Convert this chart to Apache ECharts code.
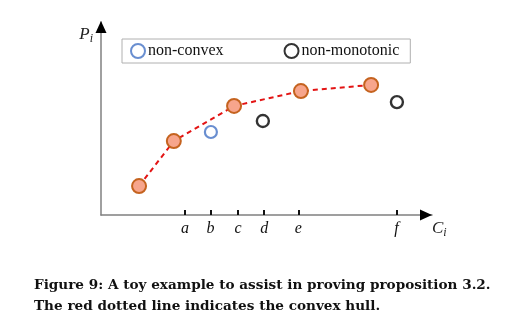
<!DOCTYPE html>
<html>
<head>
<meta charset="utf-8">
<script src="https://cdn.jsdelivr.net/npm/echarts@6/dist/echarts.min.js"></script>
<style>
  html, body { margin: 0; padding: 0; background: #fff; }
  #chart { width: 508px; height: 334px; }
</style>
</head>
<body>
<div id="chart"></div>
<script>
// Convex-hull points (C_i, P_i)
const hullX = [1.15, 2.2, 4.02, 6.04, 8.16];
const hullY = [1.5, 3.83, 5.65, 6.42, 6.74];
// Points that fail convexity / monotonicity
const nonConvex = [[3.32, 4.3]];
const nonMonotonic = [[4.89, 4.87], [8.94, 5.85]];
// Labelled positions on the C_i axis
const tickValues = [2.54, 3.31, 4.14, 4.93, 5.96, 8.93];
const tickNames = ['a', 'b', 'c', 'd', 'e', 'f'];

const serif = '"Liberation Serif", "Times New Roman", serif';
const chart = echarts.init(document.getElementById('chart'));

const hullData = hullX.map((x, i) => [x, hullY[i]]);

chart.setOption({
  animation: false,
  title: {
    text: 'Figure 9: A toy example to assist in proving proposition 3.2.\nThe red dotted line indicates the convex hull.',
    left: 29,
    top: 270,
    textStyle: {
      fontFamily: '"DejaVu Serif", serif',
      fontWeight: 'bold',
      fontSize: 13.6,
      lineHeight: 21,
      color: '#111'
    }
  },
  legend: {
    left: 122,
    top: 39,
    padding: [4, 11, 4, 8],
    itemGap: 60,
    itemWidth: 14,
    itemHeight: 14,
    borderColor: '#b0b0b0',
    borderWidth: 1,
    backgroundColor: '#fff',
    icon: 'circle',
    textStyle: { fontFamily: serif, fontSize: 16, color: '#111', padding: [0, 0, 0, -2] },
    data: ['non-convex', 'non-monotonic']
  },
  grid: { left: 101, top: 22, right: 76, bottom: 119 },
  xAxis: {
    type: 'value',
    min: 0,
    max: 10,
    name: '{m|C}{s|i}',
    nameLocation: 'end',
    nameGap: 0,
    nameTextStyle: {
      verticalAlign: 'top',
      padding: [4, 0, 0, 0],
      rich: {
        m: { fontFamily: serif, fontStyle: 'italic', fontSize: 17, color: '#222' },
        s: { fontFamily: serif, fontStyle: 'italic', fontSize: 12, color: '#222', padding: [8, 0, 0, 0] }
      }
    },
    splitLine: { show: false },
    axisLine: { show: true, lineStyle: { color: '#808080', width: 1.5 } },
    axisTick: {
      show: true,
      inside: true,
      length: 5,
      customValues: tickValues,
      lineStyle: { color: '#111', width: 2 }
    },
    axisLabel: {
      show: true,
      customValues: tickValues,
      margin: 6,
      fontFamily: serif,
      fontStyle: 'italic',
      fontSize: 16,
      color: '#111',
      formatter: v => {
        const i = tickValues.findIndex(t => Math.abs(t - v) < 1e-6);
        return i >= 0 ? tickNames[i] : '';
      }
    }
  },
  yAxis: {
    type: 'value',
    min: 0,
    max: 10,
    name: '{m|P}{s|i}',
    nameLocation: 'end',
    nameGap: 0,
    nameTextStyle: {
      align: 'right',
      verticalAlign: 'top',
      padding: [3, 8, 0, 0],
      rich: {
        m: { fontFamily: serif, fontStyle: 'italic', fontSize: 17, color: '#222' },
        s: { fontFamily: serif, fontStyle: 'italic', fontSize: 12, color: '#222', padding: [8, 0, 0, 0] }
      }
    },
    splitLine: { show: false },
    axisLine: { show: true, lineStyle: { color: '#808080', width: 1.5 } },
    axisTick: { show: false },
    axisLabel: { show: false }
  },
  series: [
    {
      name: 'hull',
      type: 'line',
      data: hullData,
      symbol: 'circle',
      symbolSize: 14,
      lineStyle: { color: '#e31414', width: 2, type: [5, 4] },
      itemStyle: { color: '#f7a58c', borderColor: '#c5631f', borderWidth: 2 },
      z: 3
    },
    {
      name: 'non-convex',
      type: 'scatter',
      data: nonConvex,
      symbol: 'circle',
      symbolSize: 12,
      itemStyle: { color: '#fff', borderColor: '#4472c4', borderWidth: 2.2 },
      z: 4
    },
    {
      name: 'non-monotonic',
      type: 'scatter',
      data: nonMonotonic,
      symbol: 'circle',
      symbolSize: 12,
      itemStyle: { color: '#fff', borderColor: '#000', borderWidth: 2.4 },
      z: 4
    }
  ]
});

// Solid arrowheads at the ends of both axes
function drawArrows() {
  const origin = chart.convertToPixel({ gridIndex: 0 }, [0, 0]);
  const xEnd = chart.convertToPixel({ gridIndex: 0 }, [10, 0]);
  const yEnd = chart.convertToPixel({ gridIndex: 0 }, [0, 10]);
  chart.setOption({
    graphic: [
      {
        type: 'polygon',
        shape: { points: [[xEnd[0], xEnd[1]], [xEnd[0] - 12, xEnd[1] - 5.5], [xEnd[0] - 12, xEnd[1] + 5.5]] },
        style: { fill: '#000' },
        z: 10
      },
      {
        type: 'polygon',
        shape: { points: [[origin[0], yEnd[1] - 1], [origin[0] - 5.5, yEnd[1] + 11], [origin[0] + 5.5, yEnd[1] + 11]] },
        style: { fill: '#000' },
        z: 10
      }
    ]
  });
}
drawArrows();
</script>
</body>
</html>
